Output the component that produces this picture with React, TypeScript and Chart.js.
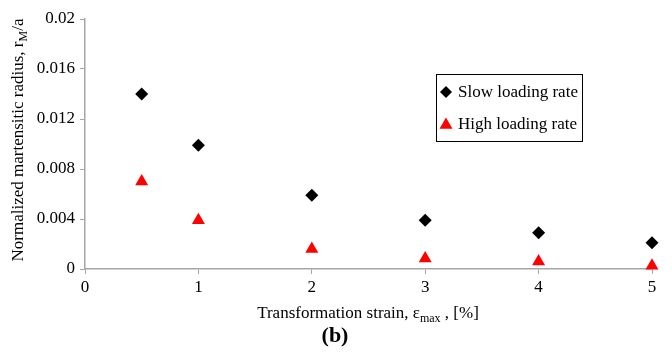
import React, { useEffect, useRef } from "react";
import { Chart, registerables } from "chart.js";

Chart.register(...registerables);

const strain = [0.5, 1, 2, 3, 4, 5];
const slowRate = [0.014, 0.0099, 0.0059, 0.0039, 0.0029, 0.0021];
const highRate = [0.007, 0.0039, 0.0016, 0.00085, 0.0006, 0.00027];
const seriesNames = ["Slow loading rate", "High loading rate"];
const xTitle = ["Transformation strain, ε", "max", " , [%]"];
const yTitle = ["Normalized martensitic radius, r", "M", "/a"];
const panelLabel = "(b)";

const FONT = "'Liberation Serif', 'Times New Roman', serif";

function drawDiamond(ctx: CanvasRenderingContext2D, x: number, y: number, r: number) {
  ctx.beginPath();
  ctx.moveTo(x, y - r);
  ctx.lineTo(x + r, y);
  ctx.lineTo(x, y + r);
  ctx.lineTo(x - r, y);
  ctx.closePath();
  ctx.fillStyle = "#000";
  ctx.fill();
}

function drawTri(ctx: CanvasRenderingContext2D, x: number, y: number, r: number) {
  ctx.beginPath();
  ctx.moveTo(x, y - r);
  ctx.lineTo(x + r * Math.sin((2 * Math.PI) / 3), y + r / 2);
  ctx.lineTo(x - r * Math.sin((2 * Math.PI) / 3), y + r / 2);
  ctx.closePath();
  ctx.fillStyle = "#ff0000";
  ctx.fill();
}

function drawSubText(
  ctx: CanvasRenderingContext2D,
  parts: string[],
  cx: number,
  baseline: number,
  size: number
) {
  const main = `${size}px ${FONT}`;
  const sub = `${Math.round(size * 0.7)}px ${FONT}`;
  ctx.font = main;
  const w0 = ctx.measureText(parts[0]).width;
  const w2 = ctx.measureText(parts[2]).width;
  ctx.font = sub;
  const w1 = ctx.measureText(parts[1]).width;
  const total = w0 + w1 + w2;
  let x = cx - total / 2;
  ctx.textAlign = "left";
  ctx.textBaseline = "alphabetic";
  ctx.fillStyle = "#000";
  ctx.font = main;
  ctx.fillText(parts[0], x, baseline);
  x += w0;
  ctx.font = sub;
  ctx.fillText(parts[1], x, baseline + size * 0.25);
  x += w1;
  ctx.font = main;
  ctx.fillText(parts[2], x, baseline);
}

const decorPlugin = {
  id: "decor",
  afterDraw(chart: any) {
    const ctx: CanvasRenderingContext2D = chart.ctx;
    ctx.save();
    // x title
    drawSubText(ctx, xTitle, 368, 318, 17);
    // panel label
    ctx.font = `bold 22px ${FONT}`;
    ctx.textAlign = "center";
    ctx.textBaseline = "alphabetic";
    ctx.fillStyle = "#000";
    ctx.fillText(panelLabel, 335, 342);
    // y title
    ctx.save();
    ctx.translate(23, 140);
    ctx.rotate(-Math.PI / 2);
    drawSubText(ctx, yTitle, 0, 0, 17);
    ctx.restore();
    // legend
    ctx.strokeStyle = "#000";
    ctx.lineWidth = 1;
    ctx.strokeRect(436.5, 74.5, 146, 67);
    drawDiamond(ctx, 446, 92, 6);
    drawTri(ctx, 446, 125, 7.5);
    ctx.font = `17px ${FONT}`;
    ctx.textAlign = "left";
    ctx.textBaseline = "middle";
    ctx.fillStyle = "#000";
    ctx.fillText(seriesNames[0], 458, 93);
    ctx.fillText(seriesNames[1], 458, 125);
    ctx.restore();
  },
};

export default function App() {
  const ref = useRef<HTMLCanvasElement>(null);
  useEffect(() => {
    document.body.style.margin = "0";
    const canvas = ref.current!;
    const chart = new Chart(canvas, {
      type: "scatter",
      data: {
        datasets: [
          {
            label: seriesNames[0],
            data: strain.map((x, i) => ({ x, y: slowRate[i] })),
            pointStyle: "rectRot",
            pointRadius: 6.5,
            pointHoverRadius: 6.5,
            backgroundColor: "#000",
            borderColor: "#000",
            borderWidth: 0,
          },
          {
            label: seriesNames[1],
            data: strain.map((x, i) => ({ x, y: highRate[i] })),
            pointStyle: "triangle",
            pointRadius: 7.5,
            pointHoverRadius: 7.5,
            backgroundColor: "#ff0000",
            borderColor: "#ff0000",
            borderWidth: 0,
          },
        ],
      },
      options: {
        animation: false,
        responsive: false,
        devicePixelRatio: 1,
        clip: false as any,
        layout: { padding: { top: 19, right: 20, left: 0, bottom: 0 } },
        plugins: { legend: { display: false }, tooltip: { enabled: false } },
        scales: {
          x: {
            type: "linear",
            min: 0,
            max: 5,
            ticks: {
              stepSize: 1,
              padding: 3,
              color: "#000",
              font: { family: FONT, size: 17 },
            },
            grid: { drawOnChartArea: false, drawTicks: true, tickLength: 5, color: "#a6a6a6" },
            border: { color: "#a6a6a6", width: 1.5 },
            afterFit: (s: any) => {
              s.height = 83;
            },
          },
          y: {
            type: "linear",
            min: 0,
            max: 0.02,
            ticks: {
              stepSize: 0.004,
              padding: 5,
              color: "#000",
              font: { family: FONT, size: 17 },
              callback: (v: any) => String(Number(Number(v).toFixed(3))),
            },
            grid: { drawOnChartArea: false, drawTicks: true, tickLength: 5, color: "#a6a6a6" },
            border: { color: "#a6a6a6", width: 1.5 },
            afterFit: (s: any) => {
              s.width = 85;
            },
          },
        },
      },
      plugins: [decorPlugin],
    });
    return () => chart.destroy();
  }, []);
  return <canvas ref={ref} width={672} height={352} style={{ display: "block" }} />;
}
